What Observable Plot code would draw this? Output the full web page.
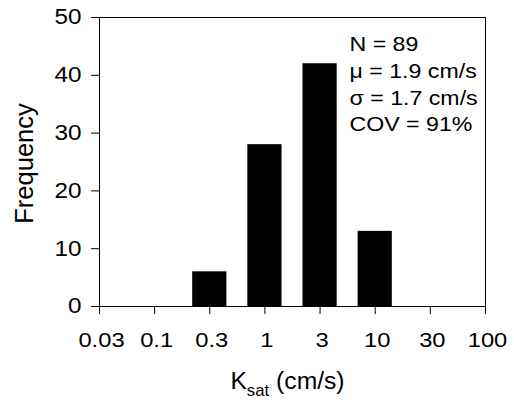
<!DOCTYPE html>
<html><head><meta charset="utf-8">
<script src="https://cdn.jsdelivr.net/npm/d3@7"></script>
<script src="https://cdn.jsdelivr.net/npm/@observablehq/plot@0.6"></script>
<style>
body{margin:0;background:#fff}
svg{font-family:"Liberation Sans",Arial,sans-serif}
</style>
</head><body><div id="chart"></div>
<script>
// Data
const binCenters = [0.31623, 1, 3.1623, 10];
const frequencies = [6, 28, 42, 13];
const xTickValues = [0.031623, 0.1, 0.31623, 1, 3.1623, 10, 31.623, 100];
const xTickLabels = ["0.03", "0.1", "0.3", "1", "3", "10", "30", "100"];
const yTickValues = [0, 10, 20, 30, 40, 50];
const statsLines = ["N = 89", "\u03bc = 1.9 cm/s", "\u03c3 = 1.7 cm/s", "COV = 91%"];
const xTitleMain = "K", xTitleSub = "sat", xTitleRest = " (cm/s)";
const yTitle = "Frequency";

const halfWidth = Math.pow(10, 0.155);
const bars = binCenters.map((c, i) => ({x1: c / halfWidth, x2: c * halfWidth, y: frequencies[i]}));
const xTicks = xTickValues.map((v, i) => ({value: v, label: xTickLabels[i]}));

const chart = Plot.plot({
  width: 514,
  height: 400,
  marginLeft: 99,
  marginRight: 29,
  marginTop: 17,
  marginBottom: 94,
  style: {fontFamily: "'Liberation Sans', Arial, sans-serif", fontSize: "21px", color: "#000", background: "#fff", overflow: "visible"},
  x: {type: "log", domain: [xTickValues[0], xTickValues[xTickValues.length - 1]]},
  y: {domain: [0, 50]},
  marks: [
    Plot.rectY(bars, {x1: "x1", x2: "x2", y: "y", fill: "#000"}),
    Plot.frame({stroke: "#000"}),
    Plot.axisX({ticks: xTickValues, text: null, tickSize: 8, label: null, stroke: "#000"}),
    Plot.text(xTicks, {x: "value", text: "label", frameAnchor: "bottom", lineAnchor: "top", textAnchor: "middle", dy: 26, dx: 2, fontSize: 21, fill: "#000"}),
    Plot.axisY({ticks: yTickValues, tickSize: 8, tickPadding: 10, fontSize: 21.5, label: null, stroke: "#000"}),
    Plot.text([yTitle], {text: d => d, frameAnchor: "left", rotate: -90, textAnchor: "middle", lineAnchor: "middle", dx: -75, dy: 1.5, fontSize: 25.5, fill: "#000"}),
    Plot.text([xTitleMain + xTitleSub + xTitleRest], {text: d => d, frameAnchor: "bottom", textAnchor: "middle", lineAnchor: "top", dx: -5, dy: 66, fontSize: 23.5, fill: "#000"}),
    Plot.text([statsLines.join("\n")], {text: d => d, frameAnchor: "top-left", textAnchor: "start", lineAnchor: "top", lineHeight: 1.3, dx: 250, dy: 15, fontSize: 20.5, fill: "#000"})
  ]
});

const svg = d3.select(chart);

// subscript for the x-axis title
svg.selectAll("text").filter(function() {
  return this.textContent === xTitleMain + xTitleSub + xTitleRest;
}).each(function() {
  const t = d3.select(this);
  t.text(null);
  t.append("tspan").text(xTitleMain);
  t.append("tspan").attr("dy", 7).attr("font-size", 16).text(xTitleSub);
  t.append("tspan").attr("dy", -7).text(xTitleRest);
});

// the reference's lettering is slightly wide: stretch unrotated texts horizontally
svg.selectAll("text").each(function() {
  const tr = this.getAttribute("transform") || "";
  if (tr.includes("rotate")) return;
  const sx = this.textContent.startsWith(xTitleMain + xTitleSub) ? 1.05 : 1.13;
  if (tr.includes("translate")) {
    this.setAttribute("transform", tr + ` scale(${sx},1)`);
  } else {
    const x = +(this.getAttribute("x") || 0);
    this.setAttribute("transform", `translate(${x},0) scale(${sx},1) translate(${-x},0)`);
  }
});

document.getElementById("chart").appendChild(chart);
</script>
</body></html>
